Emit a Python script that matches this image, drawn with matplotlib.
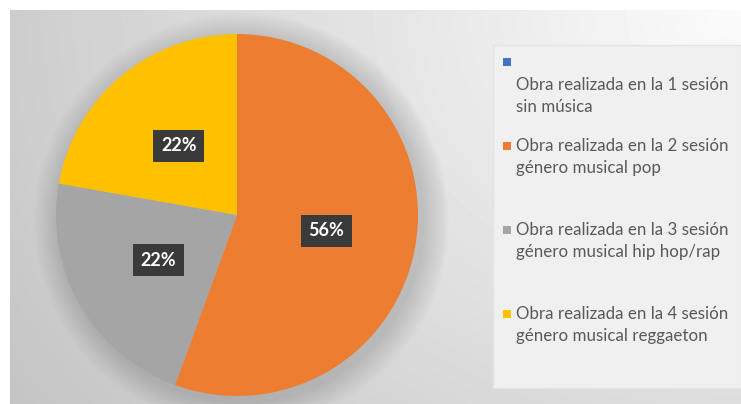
#!/usr/bin/env python3
"""Grafico de sectores: obras realizadas por sesion y genero musical."""

import matplotlib
import numpy as np

matplotlib.use("Agg")
import matplotlib.pyplot as plt  # noqa: E402
from matplotlib.patches import Rectangle, Circle  # noqa: E402

plt.rcParams["font.family"] = ["Lato", "DejaVu Sans"]

labels = [
    "Obra realizada en la 1 sesión\nsin música",
    "Obra realizada en la 2 sesión\ngénero musical pop",
    "Obra realizada en la 3 sesión\ngénero musical hip hop/rap",
    "Obra realizada en la 4 sesión\ngénero musical reggaeton",
]
counts = [0, 5, 2, 2]
colors = ["#4472C4", "#ED7D31", "#A5A5A5", "#FFC000"]

W, H = 741, 404
fig = plt.figure(figsize=(W / 100, H / 100), dpi=100)
fig.patch.set_facecolor("white")

# fondo degradado del area del grafico
bg = fig.add_axes([10 / W, 0, 1 - 10 / W, 1 - 10 / H])
gx, gy = np.meshgrid(np.linspace(0, 1, 200), np.linspace(0, 1, 120))
dist = np.sqrt(((1 - gx) * 1.2) ** 2 + ((1 - gy) * 0.8) ** 2)
grad = np.clip(0.985 - 0.15 * dist, 0, 1)
bg.imshow(grad, cmap="gray", vmin=0, vmax=1, origin="lower",
          extent=(0, 1, 0, 1), aspect="auto", interpolation="bilinear")
bg.set_axis_off()

# panel de leyenda
fig.patches.append(Rectangle((493 / W, (H - 388) / H), (W - 493) / W, 343 / H,
                             transform=fig.transFigure, facecolor="#f0f0f0",
                             edgecolor="#e4e4e4", linewidth=1.0, zorder=1))

cx, cy, r = 237, 215, 181
ax = fig.add_axes([(cx - r) / W, (H - cy - r) / H, 2 * r / W, 2 * r / H])

# sombra suave del circulo
for k in range(16):
    ax.add_patch(Circle((0.025, -0.03), 1.0 + 0.009 * (16 - k),
                        facecolor="#5a5a5a", alpha=0.016, edgecolor="none",
                        zorder=0, clip_on=False))

wedges, _, autotexts = ax.pie(
    counts,
    colors=colors,
    startangle=90,
    counterclock=False,
    radius=1.0,
    autopct=lambda p: "%d%%" % round(p) if p > 0 else "",
    pctdistance=0.5,
    wedgeprops={"linewidth": 0, "edgecolor": "none"},
    frame=True,
)
ax.set_xlim(-1, 1)
ax.set_ylim(-1, 1)
ax.set_axis_off()
for t in autotexts:
    t.set_color("white")
    t.set_fontsize(13)
    t.set_fontweight("bold")
    t.set_bbox({"boxstyle": "square,pad=0.42", "facecolor": "#3a3a3a",
                "edgecolor": "none"})

# leyenda dibujada a mano
legend_rows = [62, 146, 230, 314]
for i, (lab, col, y) in enumerate(zip(labels, colors, legend_rows)):
    sq = 8
    fig.patches.append(Rectangle((503 / W, (H - y - sq / 2) / H), sq / W, sq / H,
                                 transform=fig.transFigure, facecolor=col,
                                 edgecolor="none", zorder=3))
    first = y + 23 if i == 0 else y
    for j, line in enumerate(lab.split("\n")):
        fig.text(516 / W, (H - first - 22 * j) / H, line, fontsize=12.2,
                 color="#595959", va="center", ha="left",
                 transform=fig.transFigure)

fig.savefig("out.png", dpi=100)
